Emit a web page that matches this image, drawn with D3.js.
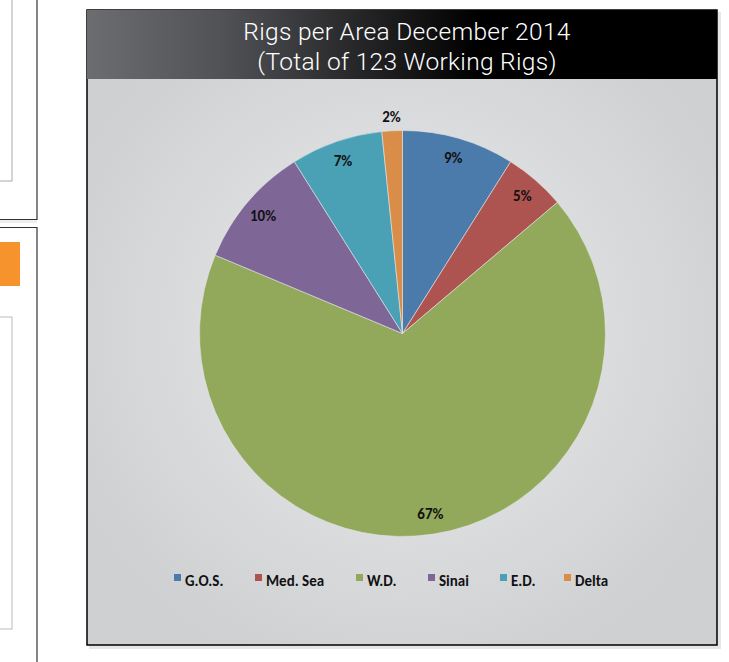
<!DOCTYPE html>
<html>
<head>
<meta charset="utf-8">
<script src="https://cdn.jsdelivr.net/npm/d3@7"></script>
<style>
  body { margin: 0; background: #fff; }
  svg { display: block; }
</style>
</head>
<body>
<div id="myDiv"></div>
<script>
// chart data
var areas = ["G.O.S.", "Med. Sea", "W.D.", "Sinai", "E.D.", "Delta"];
var rigs = [11, 6, 83, 12, 9, 2];
var colors = ["#4b7baa", "#ae5450", "#92a95c", "#7e6697", "#4aa1b6", "#d98d48"];
var titleLines = ["Rigs per Area December 2014", "(Total of 123 Working Rigs)"];

var w = 729;
var h = 662;

var svg = d3.select("#myDiv")
    .append("svg")
    .attr("width", w)
    .attr("height", h);

var defs = svg.append("defs");

var bg = defs.append("radialGradient")
    .attr("id", "bg")
    .attr("gradientUnits", "userSpaceOnUse")
    .attr("cx", 402).attr("cy", 330).attr("r", 360);
bg.append("stop").attr("offset", "0%").attr("stop-color", "#eaebed");
bg.append("stop").attr("offset", "100%").attr("stop-color", "#cfd0d2");

var tg = defs.append("linearGradient")
    .attr("id", "tg")
    .attr("x1", "0%").attr("x2", "100%").attr("y1", "0%").attr("y2", "0%");
tg.append("stop").attr("offset", "0%").attr("stop-color", "#6c6d71");
tg.append("stop").attr("offset", "22%").attr("stop-color", "#505155");
tg.append("stop").attr("offset", "62%").attr("stop-color", "#000");
tg.append("stop").attr("offset", "100%").attr("stop-color", "#000");

//left side page bits
var side = svg.append("g");
side.append("rect").attr("x", -2).attr("y", -2).attr("width", 14).attr("height", 183)
    .attr("fill", "none").attr("stroke", "#aaa").attr("stroke-width", 1);
side.append("path").attr("d", "M37,0V219.5H0")
    .attr("fill", "none").attr("stroke", "#333").attr("stroke-width", 1.2);
side.append("rect").attr("x", 0).attr("y", 220).attr("width", 37).attr("height", 3)
    .attr("fill", "#eee");
side.append("path").attr("d", "M0,227.5H37V662")
    .attr("fill", "none").attr("stroke", "#333").attr("stroke-width", 1.2);
side.append("rect").attr("x", 0).attr("y", 242).attr("width", 20).attr("height", 44)
    .attr("fill", "#f7932d");
side.append("rect").attr("x", -2).attr("y", 317).attr("width", 14).attr("height", 312)
    .attr("fill", "none").attr("stroke", "#bbb").attr("stroke-width", 1);

//chart frame
var fx = 87, fy = 10, fw = 630, fh = 635, th = 69;
svg.append("rect").attr("x", fx + 2).attr("y", fy + 2).attr("width", fw + 2).attr("height", fh + 2)
    .attr("fill", "#e6e6e6");
svg.append("rect").attr("x", fx).attr("y", fy).attr("width", fw).attr("height", fh)
    .attr("fill", "url(#bg)").attr("stroke", "#000").attr("stroke-width", 1.5);
svg.append("rect").attr("x", fx).attr("y", fy).attr("width", fw).attr("height", th)
    .attr("fill", "url(#tg)");

svg.selectAll("text.title")
   .data(titleLines)
   .enter()
   .append("text")
   .attr("class", "title")
   .attr("x", 407)
   .attr("y", function(d, i) { return 40 + i * 30; })
   .attr("text-anchor", "middle")
   .attr("fill", "#fff")
   .style("font-family", "Roboto, 'Helvetica Neue', Lato, sans-serif")
   .style("font-weight", 300)
   .style("font-size", "24.5px")
   .style("letter-spacing", "0.3px")
   .text(function(d) { return d; });

//pie
var cx = 402.5, cy = 333.5, R = 203;
var total = d3.sum(rigs);
var pie = d3.pie().sort(null).value(function(d) { return d; });
var arcs = pie(rigs);
var arc = d3.arc().innerRadius(0).outerRadius(R);

var g = svg.append("g").attr("transform", "translate(" + cx + "," + cy + ")");

g.selectAll("path")
 .data(arcs)
 .enter()
 .append("path")
 .attr("d", arc)
 .attr("fill", function(d, i) { return colors[i]; })
 .attr("stroke", "#e4e4e6")
 .attr("stroke-width", 0.6);

g.selectAll("text")
 .data(arcs)
 .enter()
 .append("text")
 .attr("transform", function(d) {
    var a = (d.startAngle + d.endAngle) / 2;
    var small = (d.endAngle - d.startAngle) < 0.15;
    var r = small ? R + 14 : R * 0.9;
    return "translate(" + (Math.sin(a) * r) + "," + (-Math.cos(a) * r) + ")";
 })
 .attr("text-anchor", "middle")
 .attr("dy", "0.35em")
 .attr("fill", "#111")
 .style("font-family", "Carlito, 'Open Sans', sans-serif")
 .style("font-weight", "bold")
 .style("font-size", "15px")
 .text(function(d) { return Math.round(d.value / total * 100) + "%"; });

//legend
var legendX = [174, 255, 356, 428, 500, 564];
var leg = svg.append("g").selectAll("g")
    .data(areas)
    .enter()
    .append("g")
    .attr("transform", function(d, i) { return "translate(" + legendX[i] + ",574)"; });

leg.append("rect")
   .attr("width", 7).attr("height", 7)
   .attr("fill", function(d, i) { return colors[i]; });

leg.append("text")
   .attr("x", 11)
   .attr("y", 12)
   .attr("fill", "#111")
   .style("font-family", "Carlito, 'Open Sans', sans-serif")
   .style("font-weight", "bold")
   .style("font-size", "15px")
   .text(function(d) { return d; });
</script>
</body>
</html>
